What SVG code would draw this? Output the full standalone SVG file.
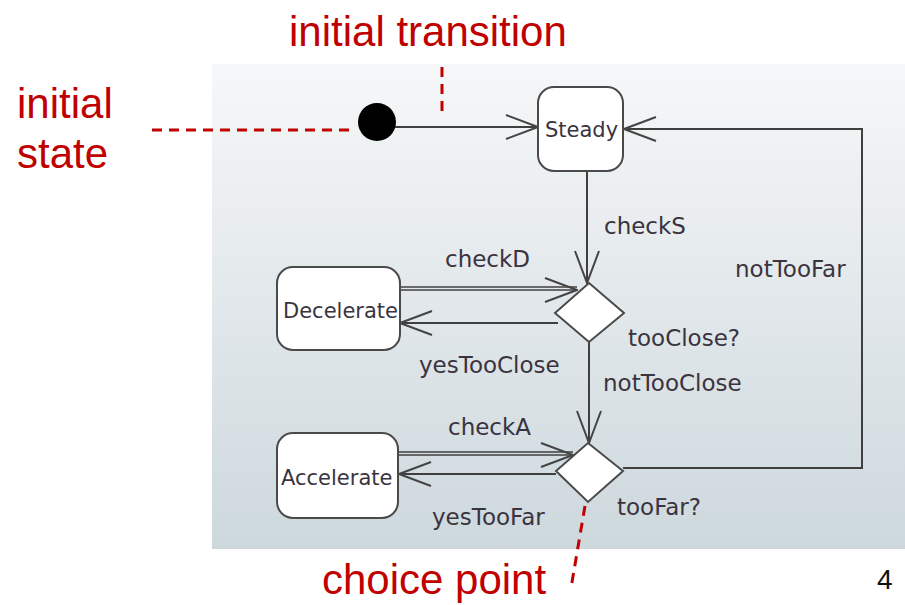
<svg xmlns="http://www.w3.org/2000/svg" width="905" height="605" viewBox="0 0 905 605">
  <defs>
    <linearGradient id="panelFill" x1="0" y1="0" x2="0" y2="1">
      <stop offset="0" stop-color="#f6f7f8"/>
      <stop offset="1" stop-color="#cdd8dd"/>
    </linearGradient>
    <marker id="openArrow" viewBox="0 0 34 26" refX="33" refY="13" markerWidth="34" markerHeight="26" markerUnits="userSpaceOnUse" orient="auto">
      <path d="M1,1 L33,13 L1,25" fill="none" stroke="#444" stroke-width="2"/>
    </marker>
    <style>
      .state { fill: #ffffff; stroke: #4a4a4a; stroke-width: 2; }
      .choice { fill: #ffffff; stroke: #4a4a4a; stroke-width: 2; }
      .edge { fill: none; stroke: #3f3f3f; stroke-width: 2; }
      .edge2 { fill: none; stroke: #3f3f3f; stroke-width: 1.5; }
      .name { font-family: "DejaVu Sans", sans-serif; font-size: 21px; fill: #3a3340; }
      .lbl { font-family: "DejaVu Sans", sans-serif; font-size: 23px; fill: #3a3340; }
      .note { font-family: "Liberation Sans", Arial, sans-serif; font-size: 42px; fill: #c00000; }
      .lead { fill: none; stroke: #c00000; stroke-width: 3; stroke-dasharray: 10 7; }
    </style>
  </defs>

  <!-- background -->
  <rect x="0" y="0" width="905" height="605" fill="#ffffff"/>
  <rect x="212" y="64" width="693" height="485" fill="url(#panelFill)"/>

  <!-- transitions -->
  <g id="connectors">
    <line class="edge" x1="395" y1="127" x2="538" y2="127" marker-end="url(#openArrow)"/>
    <line class="edge" x1="587" y1="171" x2="587" y2="283" marker-end="url(#openArrow)"/>
    <line class="edge2" x1="400" y1="287" x2="577" y2="287"/>
    <line class="edge2" x1="400" y1="290" x2="577" y2="290" marker-end="url(#openArrow)"/>
    <line class="edge" x1="558" y1="323" x2="400" y2="323" marker-end="url(#openArrow)"/>
    <line class="edge" x1="589" y1="342" x2="589" y2="443" marker-end="url(#openArrow)"/>
    <line class="edge2" x1="398" y1="452" x2="573" y2="452"/>
    <line class="edge2" x1="398" y1="455" x2="573" y2="455" marker-end="url(#openArrow)"/>
    <line class="edge" x1="556" y1="474" x2="399" y2="474" marker-end="url(#openArrow)"/>
    <polyline class="edge" points="623,468 862,468 862,129 624,129" marker-end="url(#openArrow)"/>
  </g>

  <!-- initial pseudostate -->
  <g id="initial">
    <circle cx="377" cy="122" r="19" fill="#000000"/>
  </g>

  <!-- states -->
  <g id="steady">
    <rect class="state" x="538" y="87" width="85" height="84" rx="16"/>
    <text class="name" x="545" y="137">Steady</text>
  </g>
  <g id="decelerate">
    <rect class="state" x="277" y="267" width="123" height="83" rx="16"/>
    <text class="name" x="283" y="318">Decelerate</text>
  </g>
  <g id="accelerate">
    <rect class="state" x="277" y="433" width="121" height="85" rx="16"/>
    <text class="name" x="281" y="485">Accelerate</text>
  </g>

  <!-- choice points -->
  <g id="tooClose">
    <polygon class="choice" points="589,283 624,313 589,342 555,313"/>
  </g>
  <g id="tooFar">
    <polygon class="choice" points="588,443 623,471 588,502 556,471"/>
  </g>

  <!-- transition and guard labels -->
  <g id="labels">
    <text class="lbl" x="604" y="234">checkS</text>
    <text class="lbl" x="735" y="277">notTooFar</text>
    <text class="lbl" x="445" y="267">checkD</text>
    <text class="lbl" x="628" y="346">tooClose?</text>
    <text class="lbl" x="419" y="373">yesTooClose</text>
    <text class="lbl" x="603" y="391">notTooClose</text>
    <text class="lbl" x="448" y="435">checkA</text>
    <text class="lbl" x="617" y="515">tooFar?</text>
    <text class="lbl" x="432" y="525">yesTooFar</text>
  </g>

  <!-- callouts -->
  <g id="callouts">
    <path class="lead" d="M152,130 H352"/>
    <path class="lead" d="M442,67 V113"/>
    <path class="lead" d="M585,506 L571,588"/>
    <text class="note" x="289" y="46">initial transition</text>
    <text class="note" x="17" y="118">initial</text>
    <text class="note" x="17" y="168">state</text>
    <text class="note" x="322" y="594">choice point</text>
  </g>

  <text x="877" y="589" font-family="Liberation Sans, Arial, sans-serif" font-size="28" fill="#111111">4</text>
</svg>
